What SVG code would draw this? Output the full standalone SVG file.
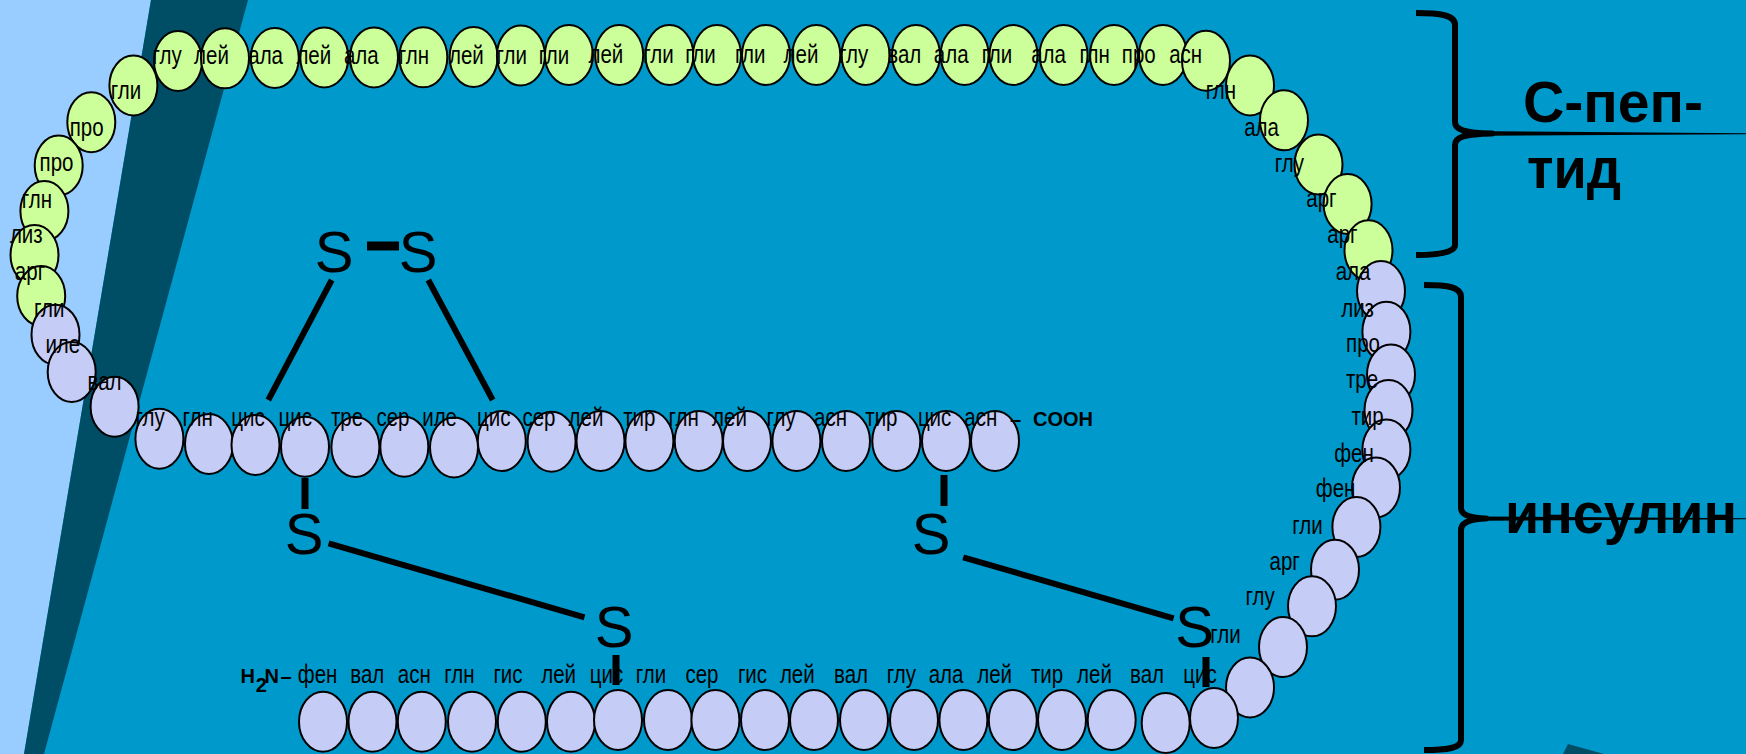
<svg xmlns="http://www.w3.org/2000/svg" width="1746" height="754" viewBox="0 0 1746 754">
<style>
  .g { fill: #CCFF99; stroke: #000; stroke-width: 2; }
  .b { fill: #C5CCF5; stroke: #000; stroke-width: 2; }
  .aa { font-family: "Liberation Sans", Arial, sans-serif; font-size: 25px; fill: #000; text-anchor: middle;
        transform: scaleX(0.82); transform-box: fill-box; transform-origin: center; }
  .s { font-family: "Liberation Sans", Arial, sans-serif; font-size: 58px; fill: #000; text-anchor: middle; }
  .end { font-family: "Liberation Sans", Arial, sans-serif; font-size: 20px; font-weight: bold; fill: #000; }
  .title { font-family: "Liberation Sans", Arial, sans-serif; font-size: 57px; font-weight: bold; fill: #000; }
  .brace { fill: none; stroke: #000; stroke-width: 6; stroke-linejoin: round; }
</style>

<!-- backdrop -->
<rect width="1746" height="754" fill="#0099CC"/>
<polygon points="0,0 151,0 24,754 0,754" fill="#99CCFF"/>
<polygon points="151,0 248,0 44,754 24,754" fill="#004D66"/>
<polygon points="1568,744 1604,754 1563,754" fill="#004D66"/>

<!-- C-peptide, left arm (top to bottom) -->
<g id="cp-gli-1"><ellipse class="g" cx="133.4" cy="85.5" rx="24" ry="30"/><text class="aa" x="126" y="99">гли</text></g>
<g id="cp-pro-1"><ellipse class="g" cx="91.3" cy="122.2" rx="24" ry="30"/><text class="aa" x="86.7" y="136">про</text></g>
<g id="cp-pro-2"><ellipse class="g" cx="58.7" cy="165.5" rx="24" ry="30"/><text class="aa" x="56.5" y="171.5">про</text></g>
<g id="cp-gln-1"><ellipse class="g" cx="44.4" cy="211" rx="24" ry="30"/><text class="aa" x="37" y="208.3">глн</text></g>
<g id="cp-liz"><ellipse class="g" cx="34.5" cy="255" rx="24" ry="30"/><text class="aa" x="26.3" y="243.3">лиз</text></g>
<g id="cp-arg-1"><ellipse class="g" cx="41.2" cy="296" rx="24" ry="30"/><text class="aa" x="30" y="280">арг</text></g>

<!-- A chain start, left arm -->
<g id="a-gli"><ellipse class="b" cx="55.5" cy="334.7" rx="24" ry="30"/><text class="aa" x="49.3" y="316.7">гли</text></g>
<g id="a-ile"><ellipse class="b" cx="71.7" cy="372" rx="24" ry="30"/><text class="aa" x="62.8" y="353">иле</text></g>
<g id="a-val"><ellipse class="b" cx="114.6" cy="406.7" rx="24" ry="30"/><text class="aa" x="104.5" y="390">вал</text></g>

<!-- A chain, horizontal run -->
<g id="a-glu"><ellipse class="b" cx="159.4" cy="438.7" rx="24" ry="30"/><text class="aa" x="150" y="426">глу</text></g>
<g id="a-gln"><ellipse class="b" cx="209" cy="444" rx="24" ry="30"/><text class="aa" x="197.7" y="426">глн</text></g>
<g id="a-cys-6"><ellipse class="b" cx="255.5" cy="445" rx="24" ry="30"/><text class="aa" x="248" y="426">цис</text></g>
<g id="a-cys-7"><ellipse class="b" cx="305" cy="446.7" rx="24" ry="30"/><text class="aa" x="295.3" y="426">цис</text></g>
<g id="a-thr"><ellipse class="b" cx="355.4" cy="447" rx="24" ry="30"/><text class="aa" x="347" y="426">тре</text></g>
<g id="a-ser-9"><ellipse class="b" cx="404.3" cy="446.7" rx="24" ry="30"/><text class="aa" x="393" y="426">сер</text></g>
<g id="a-ile-10"><ellipse class="b" cx="454" cy="447.5" rx="24" ry="30"/><text class="aa" x="439.6" y="426">иле</text></g>
<g id="a-cys-11"><ellipse class="b" cx="501.8" cy="441" rx="24" ry="30"/><text class="aa" x="493.7" y="426">цис</text></g>
<g id="a-ser-12"><ellipse class="b" cx="551.6" cy="441.7" rx="24" ry="30"/><text class="aa" x="539" y="426">сер</text></g>
<g id="a-leu-13"><ellipse class="b" cx="600.5" cy="441" rx="24" ry="30"/><text class="aa" x="586" y="426">лей</text></g>
<g id="a-tyr-14"><ellipse class="b" cx="649.4" cy="441" rx="24" ry="30"/><text class="aa" x="639.3" y="426">тир</text></g>
<g id="a-gln-15"><ellipse class="b" cx="698.7" cy="441" rx="24" ry="30"/><text class="aa" x="683.7" y="426">глн</text></g>
<g id="a-leu-16"><ellipse class="b" cx="747" cy="441" rx="24" ry="30"/><text class="aa" x="729.5" y="426">лей</text></g>
<g id="a-glu-17"><ellipse class="b" cx="796.4" cy="441" rx="24" ry="30"/><text class="aa" x="781" y="426">глу</text></g>
<g id="a-asn-18"><ellipse class="b" cx="846" cy="441" rx="24" ry="30"/><text class="aa" x="830.6" y="426">асн</text></g>
<g id="a-tyr-19"><ellipse class="b" cx="896.3" cy="441" rx="24" ry="30"/><text class="aa" x="881.4" y="426">тир</text></g>
<g id="a-cys-20"><ellipse class="b" cx="946" cy="441" rx="24" ry="30"/><text class="aa" x="934.6" y="426">цис</text></g>
<g id="a-asn-21"><ellipse class="b" cx="995" cy="441" rx="24" ry="30"/><text class="aa" x="980.8" y="426">асн</text></g>
<g id="a-cooh"><text class="end" x="1010" y="426">–</text><text class="end" x="1033" y="426">COOH</text></g>

<!-- C-peptide, top run -->
<g id="cp-glu-1"><ellipse class="g" cx="178" cy="61" rx="24" ry="30"/><text class="aa" x="167" y="64">глу</text></g>
<g id="cp-leu-1"><ellipse class="g" cx="225" cy="58.3" rx="24" ry="30"/><text class="aa" x="211.5" y="64">лей</text></g>
<g id="cp-ala-1"><ellipse class="g" cx="274.8" cy="58" rx="24" ry="30"/><text class="aa" x="265.6" y="64">ала</text></g>
<g id="cp-leu-2"><ellipse class="g" cx="324.3" cy="57.5" rx="24" ry="30"/><text class="aa" x="313.8" y="64">лей</text></g>
<g id="cp-ala-2"><ellipse class="g" cx="374" cy="57.5" rx="24" ry="30"/><text class="aa" x="361.3" y="64">ала</text></g>
<g id="cp-gln-2"><ellipse class="g" cx="423.3" cy="57.3" rx="24" ry="30"/><text class="aa" x="414" y="64">глн</text></g>
<g id="cp-leu-3"><ellipse class="g" cx="473.6" cy="57" rx="24" ry="30"/><text class="aa" x="466.4" y="64">лей</text></g>
<g id="cp-gli-2"><ellipse class="g" cx="520.9" cy="55.5" rx="24" ry="30"/><text class="aa" x="511.8" y="64">гли</text></g>
<g id="cp-gli-3"><ellipse class="g" cx="568.9" cy="55" rx="24" ry="30"/><text class="aa" x="554" y="64">гли</text></g>
<g id="cp-leu-4"><ellipse class="g" cx="619.2" cy="55" rx="24" ry="30"/><text class="aa" x="605.9" y="63.5">лей</text></g>
<g id="cp-gli-4"><ellipse class="g" cx="669.4" cy="55" rx="24" ry="30"/><text class="aa" x="658.4" y="63.5">гли</text></g>
<g id="cp-gli-5"><ellipse class="g" cx="717" cy="55" rx="24" ry="30"/><text class="aa" x="700.5" y="63.5">гли</text></g>
<g id="cp-gli-6"><ellipse class="g" cx="766" cy="55" rx="24" ry="30"/><text class="aa" x="750.3" y="63.5">гли</text></g>
<g id="cp-leu-5"><ellipse class="g" cx="816.3" cy="55" rx="24" ry="30"/><text class="aa" x="801" y="63.5">лей</text></g>
<g id="cp-glu-2"><ellipse class="g" cx="865.6" cy="55" rx="24" ry="30"/><text class="aa" x="853.5" y="63.5">глу</text></g>
<g id="cp-val"><ellipse class="g" cx="916" cy="55" rx="24" ry="30"/><text class="aa" x="904.3" y="63.5">вал</text></g>
<g id="cp-ala-3"><ellipse class="g" cx="964.6" cy="55" rx="24" ry="30"/><text class="aa" x="951.2" y="63.5">ала</text></g>
<g id="cp-gli-7"><ellipse class="g" cx="1013.5" cy="55" rx="24" ry="30"/><text class="aa" x="997" y="63.5">гли</text></g>
<g id="cp-ala-4"><ellipse class="g" cx="1063.6" cy="55" rx="24" ry="30"/><text class="aa" x="1048.5" y="63.5">ала</text></g>
<g id="cp-gln-3"><ellipse class="g" cx="1114" cy="55" rx="24" ry="30"/><text class="aa" x="1094.7" y="63.5">глн</text></g>
<g id="cp-pro-3"><ellipse class="g" cx="1163" cy="55" rx="24" ry="30"/><text class="aa" x="1138.8" y="63.5">про</text></g>
<g id="cp-asn"><ellipse class="g" cx="1206" cy="60.7" rx="24" ry="30"/><text class="aa" x="1185.7" y="63.5">асн</text></g>

<!-- C-peptide, right arm -->
<g id="cp-gln-4"><ellipse class="g" cx="1250" cy="85.5" rx="24" ry="30"/><text class="aa" x="1221" y="99">глн</text></g>
<g id="cp-ala-5"><ellipse class="g" cx="1284" cy="120.3" rx="24" ry="30"/><text class="aa" x="1261.5" y="136">ала</text></g>
<g id="cp-glu-3"><ellipse class="g" cx="1318.5" cy="164.5" rx="24" ry="30"/><text class="aa" x="1289.4" y="171.7">глу</text></g>
<g id="cp-arg-2"><ellipse class="g" cx="1347.6" cy="204" rx="24" ry="30"/><text class="aa" x="1321.4" y="206.7">арг</text></g>
<g id="cp-arg-3"><ellipse class="g" cx="1368.5" cy="250.3" rx="24" ry="30"/><text class="aa" x="1342.4" y="243.3">арг</text></g>

<!-- B chain, right arm (top to bottom) -->
<g id="b-ala-30"><ellipse class="b" cx="1381" cy="291" rx="24" ry="30"/><text class="aa" x="1353" y="280">ала</text></g>
<g id="b-liz-29"><ellipse class="b" cx="1386.4" cy="331.7" rx="24" ry="30"/><text class="aa" x="1357.6" y="316.7">лиз</text></g>
<g id="b-pro-28"><ellipse class="b" cx="1391" cy="374.5" rx="24" ry="30"/><text class="aa" x="1363" y="351.7">про</text></g>
<g id="b-thr-27"><ellipse class="b" cx="1388.5" cy="410" rx="24" ry="30"/><text class="aa" x="1362" y="388">тре</text></g>
<g id="b-tyr-26"><ellipse class="b" cx="1386.4" cy="449.5" rx="24" ry="30"/><text class="aa" x="1367.5" y="425">тир</text></g>
<g id="b-phe-25"><ellipse class="b" cx="1376" cy="487.5" rx="24" ry="30"/><text class="aa" x="1354" y="461.7">фен</text></g>
<g id="b-phe-24"><ellipse class="b" cx="1356.4" cy="527" rx="24" ry="30"/><text class="aa" x="1335.6" y="496.7">фен</text></g>
<g id="b-gli-23"><ellipse class="b" cx="1335" cy="569.7" rx="24" ry="30"/><text class="aa" x="1307.4" y="534">гли</text></g>
<g id="b-arg-22"><ellipse class="b" cx="1312" cy="606.3" rx="24" ry="30"/><text class="aa" x="1284.7" y="570">арг</text></g>
<g id="b-glu-21"><ellipse class="b" cx="1283" cy="647" rx="24" ry="30"/><text class="aa" x="1260" y="605">глу</text></g>
<g id="b-gli-20"><ellipse class="b" cx="1250" cy="687.5" rx="24" ry="30"/><text class="aa" x="1225.5" y="642.7">гли</text></g>

<!-- B chain, bottom run -->
<g id="b-h2n"><text class="end" x="240.5" y="683.3">H</text><text class="end" x="255.8" y="691.5" font-size="13px">2</text><text class="end" x="264.5" y="683.3">N</text><text class="end" x="280.5" y="683.3" font-weight="normal">–</text></g>
<g id="b-phe-1"><ellipse class="b" cx="323" cy="721.7" rx="24" ry="30"/><text class="aa" x="317.6" y="683.3">фен</text></g>
<g id="b-val-2"><ellipse class="b" cx="372.5" cy="721.7" rx="24" ry="30"/><text class="aa" x="367.3" y="683.3">вал</text></g>
<g id="b-asn-3"><ellipse class="b" cx="421.8" cy="721.7" rx="24" ry="30"/><text class="aa" x="414.3" y="683.3">асн</text></g>
<g id="b-gln-4"><ellipse class="b" cx="472" cy="721.7" rx="24" ry="30"/><text class="aa" x="459.4" y="683.3">глн</text></g>
<g id="b-his-5"><ellipse class="b" cx="521.8" cy="721.7" rx="24" ry="30"/><text class="aa" x="508" y="683.3">гис</text></g>
<g id="b-leu-6"><ellipse class="b" cx="571" cy="721.7" rx="24" ry="30"/><text class="aa" x="558.6" y="683.3">лей</text></g>
<g id="b-cys-7"><ellipse class="b" cx="618" cy="720" rx="24" ry="30"/><text class="aa" x="606.5" y="683.3">цис</text></g>
<g id="b-gli-8"><ellipse class="b" cx="668" cy="720" rx="24" ry="30"/><text class="aa" x="651" y="683.3">гли</text></g>
<g id="b-ser-9"><ellipse class="b" cx="715.4" cy="720" rx="24" ry="30"/><text class="aa" x="702" y="683.3">сер</text></g>
<g id="b-his-10"><ellipse class="b" cx="765" cy="720" rx="24" ry="30"/><text class="aa" x="752.5" y="683.3">гис</text></g>
<g id="b-leu-11"><ellipse class="b" cx="814" cy="720" rx="24" ry="30"/><text class="aa" x="797.3" y="683.3">лей</text></g>
<g id="b-val-12"><ellipse class="b" cx="864" cy="720" rx="24" ry="30"/><text class="aa" x="851" y="683.3">вал</text></g>
<g id="b-glu-13"><ellipse class="b" cx="914" cy="720" rx="24" ry="30"/><text class="aa" x="901.4" y="683.3">глу</text></g>
<g id="b-ala-14"><ellipse class="b" cx="963.4" cy="720" rx="24" ry="30"/><text class="aa" x="946" y="683.3">ала</text></g>
<g id="b-leu-15"><ellipse class="b" cx="1012.8" cy="720" rx="24" ry="30"/><text class="aa" x="994.6" y="683.3">лей</text></g>
<g id="b-tyr-16"><ellipse class="b" cx="1062" cy="720" rx="24" ry="30"/><text class="aa" x="1047" y="683.3">тир</text></g>
<g id="b-leu-17"><ellipse class="b" cx="1111.7" cy="720" rx="24" ry="30"/><text class="aa" x="1094.5" y="683.3">лей</text></g>
<g id="b-val-18"><ellipse class="b" cx="1165.7" cy="723" rx="24" ry="30"/><text class="aa" x="1147" y="683.3">вал</text></g>
<g id="b-cys-19"><ellipse class="b" cx="1214" cy="718" rx="24" ry="30"/><text class="aa" x="1200" y="683.3">цис</text></g>

<!-- sulfur atoms -->
<g id="s-a6"><text class="s" x="334" y="271.7">S</text></g>
<g id="s-a11"><text class="s" x="418" y="271.7">S</text></g>
<g id="s-a7"><text class="s" x="304" y="554">S</text></g>
<g id="s-b7"><text class="s" x="614" y="646.7">S</text></g>
<g id="s-a20"><text class="s" x="931" y="554">S</text></g>
<g id="s-b19"><text class="s" x="1194.6" y="646.7">S</text></g>

<!-- disulfide bonds -->
<g id="connectors" stroke="#000" stroke-width="6" fill="none">
  <line x1="367" y1="246" x2="399" y2="246" stroke-width="9"/>
  <line x1="331.7" y1="280" x2="268.3" y2="400"/>
  <line x1="428.3" y1="280" x2="492.7" y2="400"/>
  <line x1="305" y1="478" x2="305" y2="509" stroke-width="7"/>
  <line x1="328.6" y1="543.3" x2="584.5" y2="617.3"/>
  <line x1="616" y1="655" x2="616" y2="685" stroke-width="7"/>
  <line x1="944" y1="475" x2="944" y2="506" stroke-width="7"/>
  <line x1="963.2" y1="557.3" x2="1173.6" y2="618.3"/>
  <line x1="1206" y1="657" x2="1206" y2="687" stroke-width="7"/>
</g>

<!-- braces with captions -->
<g id="brace-cpeptide">
  <path class="brace" d="M1416,13 C1440,13 1455,15 1455,25 L1455,122 C1455,130 1465,133 1492,133.5 C1465,134 1455,137 1455,145 L1455,245 C1455,252 1440,255 1416,255"/>
  <polygon points="1490,131.2 1746,133.2 1746,134.3 1490,135.8" fill="#000"/>
  <text class="title" x="1523" y="121.7" textLength="180" lengthAdjust="spacingAndGlyphs">С-пеп-</text>
  <text class="title" x="1527" y="188.3" textLength="94" lengthAdjust="spacingAndGlyphs">тид</text>
</g>
<g id="brace-insulin">
  <text class="title" x="1505" y="533" textLength="232" lengthAdjust="spacingAndGlyphs">инсулин</text>
  <path class="brace" d="M1424,285 C1448,285 1461,287 1461,297 L1461,508 C1461,515 1470,518 1486,518.5 C1470,519 1461,522 1461,530 L1461,740 C1461,748 1448,750 1424,750"/>
  <polygon points="1484,516.5 1746,518.3 1746,519.3 1484,520.7" fill="#000"/>
</g>
</svg>
